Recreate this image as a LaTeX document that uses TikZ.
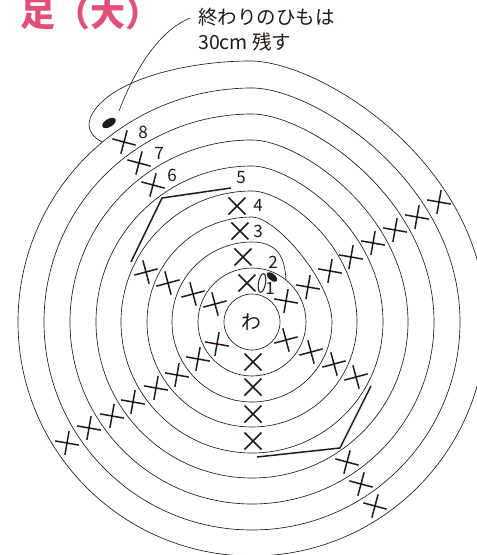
\documentclass[tikz,border=0pt]{standalone}
\usepackage{fontspec}
\setmainfont{Noto Sans CJK JP}
\usetikzlibrary{shapes.misc,shapes.geometric}
\definecolor{inkbrown}{HTML}{231815}
\definecolor{titlepink}{HTML}{E2507A}
\tikzset{
  ring/.style={draw=inkbrown, line width=0.65pt},
  xmark/.style={cross out, draw=inkbrown, line width=1.5pt, minimum size=17pt, inner sep=0pt, outer sep=0pt},
  marker/.style={draw=inkbrown, line width=1.5pt},
  numlabel/.style={text=inkbrown, font=\fontsize{17}{17}\selectfont, inner sep=0pt},
  knot/.style={ellipse, fill=inkbrown, inner sep=0pt}
}
\begin{document}
\begin{tikzpicture}[x=1pt,y=1pt]
  \useasboundingbox (-252,-233) rectangle (225,322);

  \node[anchor=base west, inner sep=0pt, text=titlepink, font=\fontsize{35}{35}\selectfont\bfseries] (title) at (-232,295.5) {足（大）};
  \node[anchor=north west, inner sep=0pt, align=left, text=inkbrown, font=\fontsize{19.5}{25}\selectfont] (endnote) at (-54,314) {終わりのひもは\\30cm 残す};

  \node[circle, ring, minimum size=56pt, inner sep=0pt, text=inkbrown, font=\fontsize{20}{20}\selectfont] (wa) at (0,0) {わ};
  \node[circle, ring, minimum size=108pt, inner sep=0pt] (round2) at (0,0) {};

  \draw[ring] (34,42) .. controls (33,58) and (30,80) .. (0,80) arc[start angle=90, end angle=360, radius=80] .. controls (80,40) and (24,105) .. (0,105);
  \foreach \r/\R in {105/131,131/156,156/182,182/208,208/234} {
    \draw[ring] (0,\r) arc[start angle=90, end angle=360, radius=\r] .. controls (\r,{0.6*\R}) and ({0.3*\r},\R) .. (0,\R);
  }
  \draw[ring] (0,234) arc[start angle=90, end angle=360, radius=234] .. controls (234,157) and (70,261) .. (-2,261)
    .. controls (-60,261) and (-130,245) .. (-155,215)
    .. controls (-165,203) and (-168,190) .. (-150,180);

  \foreach \x/\y in {1/-40,1/-65,1/-92,1/-119,-5/39,-9/65,-12/91,-15/116} {
    \node[xmark] at (\x,\y) {};
  }
  \foreach \x/\y in {-37/18,-59/28,-84/39,-106/50,34/-18,59/-30,82/-42,104/-55} {
    \node[xmark, rotate=-30] at (\x,\y) {};
  }
  \foreach \x/\y in {-35/-22,-54/-37,-75/-53,-96/-66,-119/-80,-140/-94,-163/-106,-185/-121,34/21,56/35,78/51,99/65,121/79,143/92,165/105,187/120} {
    \node[xmark, rotate=-55] at (\x,\y) {};
  }
  \foreach \x/\y in {-99/137,-113/159,-128/180,95/-140,109/-162,123/-184} {
    \node[xmark, rotate=-60] at (\x,\y) {};
  }

  \draw[marker] (-121,60) -- (-90,124) -- (-21,134);
  \draw[marker] (119,-64) -- (88,-126) -- (5,-135);

  \foreach \x/\y/\n in {18/34/1,21/60/2,6/91/3,6/117/4,-11/144/5,-80/147/6,-93/169/7,-109/190/8} {
    \node[numlabel] (num\n) at (\x,\y) {\n};
  }

  \node[ellipse, draw=inkbrown, line width=1pt, minimum width=7pt, minimum height=19pt, inner sep=0pt, rotate=-10] (chain) at (10,39) {};
  \node[knot, minimum width=13pt, minimum height=6.5pt, rotate=-40] (slipknot) at (20,45) {};
  \node[knot, minimum width=15pt, minimum height=8pt, rotate=30] (tailknot) at (-143,199) {};

  \coordinate (leadend) at (-133,211);
  \draw[inkbrown, line width=0.6pt] (endnote.west |- 0,304) ++(-8,0) .. controls (-95,290) and (-118,250) .. (leadend);
\end{tikzpicture}
\end{document}
